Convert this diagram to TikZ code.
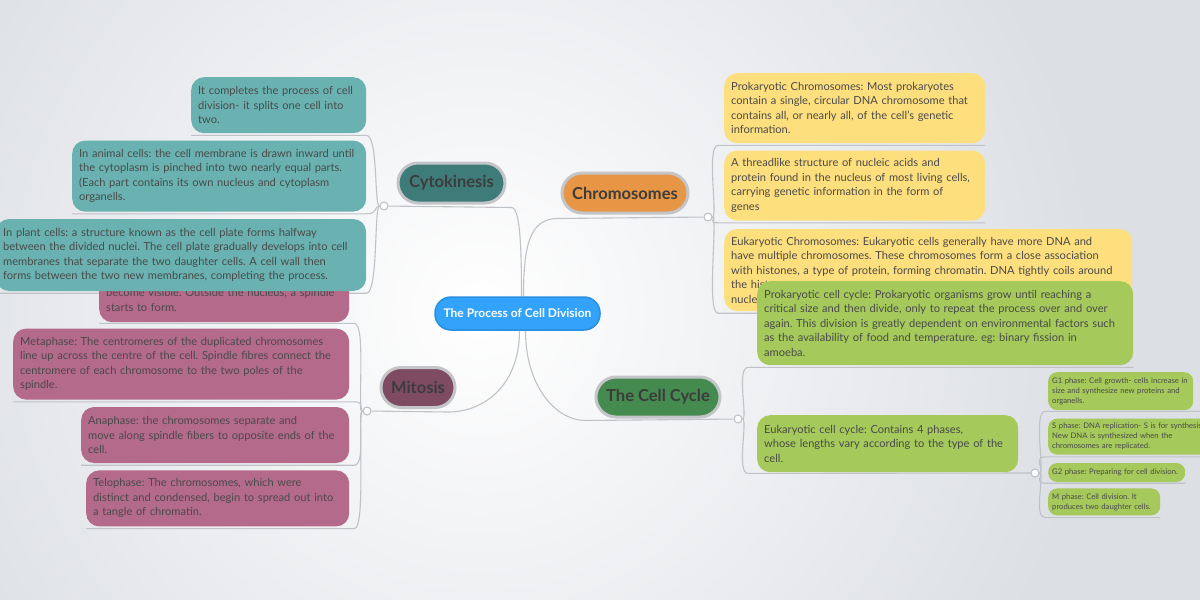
\documentclass[tikz,border=0pt]{standalone}
\usepackage{fontspec}
\setmainfont{Lato}
\usetikzlibrary{positioning}
\definecolor{bgcol}{HTML}{DCDFE4}
\definecolor{linecol}{HTML}{BFC2C7}
\definecolor{txtcol}{HTML}{4A4A4A}
\definecolor{headcol}{HTML}{3C3C3C}
\definecolor{rootcol}{HTML}{33A2FB}
\definecolor{rootedge}{HTML}{2A8FE0}
\definecolor{halocol}{HTML}{C4C5C8}
\definecolor{cytocol}{HTML}{3E7B79}
\definecolor{cytoleaf}{HTML}{69B2B1}
\definecolor{chromocol}{HTML}{E69645}
\definecolor{chromoleaf}{HTML}{FEDF7E}
\definecolor{mitocol}{HTML}{7E4B63}
\definecolor{mitoleaf}{HTML}{B46A8B}
\definecolor{cyclecol}{HTML}{458B4F}
\definecolor{cycleleaf}{HTML}{A5C95B}
\pgfdeclarelayer{back}
\pgfdeclarelayer{lines}
\pgfsetlayers{back,lines,main}
\frenchspacing

\begin{document}
\begin{tikzpicture}[x=1pt,y=-1pt,
    conn/.style={draw=linecol,line width=1.1pt},
    joint/.style={circle,draw=linecol,fill=white,line width=1.1pt,inner sep=0pt,minimum size=8pt},
    topic/.style={fill=#1,draw=halocol,line width=3pt,rounded corners=20pt,minimum height=40pt,
                  text=headcol,font=\fontsize{16.5}{19}\selectfont\bfseries},
    leaf/.style={fill=#1,rounded corners=13pt,align=left,anchor=north west,text=txtcol,
                 inner xsep=7pt,inner ysep=0pt,font=\fontsize{11.1}{14.5}\selectfont},
    phase/.style={fill=cycleleaf,rounded corners=9pt,align=left,anchor=north west,text=txtcol,
                  inner xsep=4pt,inner ysep=0pt,font=\fontsize{7.7}{10}\selectfont},
    lspur/.style={to path={.. controls +(-10,0) and +(12,0) .. (\tikztotarget)}},
    rspur/.style={to path={.. controls +(10,0) and +(-12,0) .. (\tikztotarget)}}]
  \clip (0,0) rectangle (1200,600);
  \begin{pgfonlayer}{back}
    \fill[bgcol] (0,0) rectangle (1200,600);
    \shade[inner color=white,outer color=bgcol] (480,310) circle (620pt);
  \end{pgfonlayer}

  % centre and main topics
  \node[fill=rootcol,draw=rootedge,line width=1.5pt,rounded corners=16pt,minimum width=165pt,
        minimum height=33pt,text=white,font=\fontsize{12}{14}\selectfont\bfseries]
        (root) at (517.5,313.5) {The Process of Cell Division};
  \node[topic=cytocol,minimum width=107pt]   (cyto)   at (451.5,183) {Cytokinesis};
  \node[topic=chromocol,minimum width=126pt] (chromo) at (625,193)   {Chromosomes};
  \node[topic=mitocol,minimum width=74pt]    (mito)   at (418,387.5) {Mitosis};
  \node[topic=cyclecol,minimum width=124pt]  (cycle)  at (658,397)   {The Cell Cycle};

  % mitosis
  \node[leaf=mitoleaf,text width=236pt,minimum height=44pt] (mito1) at (99,278)
    {become visible. Outside the nucleus, a spindle\\starts to form.};
  \node[leaf=mitoleaf,text width=322pt,minimum height=71pt,below=6pt of mito1.south east,anchor=north east] (mito2)
    {Metaphase: The centromeres of the duplicated chromosomes\\line up across the centre of the cell. Spindle fibres connect the\\centromere of each chromosome to the two poles of the\\spindle.};
  \node[leaf=mitoleaf,text width=254pt,minimum height=56pt,below=7pt of mito2.south east,anchor=north east] (mito3)
    {Anaphase: the chromosomes separate and\\move along spindle fibers to opposite ends of the\\cell.};
  \node[leaf=mitoleaf,text width=249pt,minimum height=56pt,below=7pt of mito3.south east,anchor=north east] (mito4)
    {Telophase: The chromosomes, which were\\distinct and condensed, begin to spread out into\\a tangle of chromatin.};

  % cytokinesis
  \node[leaf=cytoleaf,text width=161pt,minimum height=56pt] (cyto1) at (191,77)
    {It completes the process of cell\\division- it splits one cell into\\two.};
  \node[leaf=cytoleaf,text width=280pt,minimum height=71pt,below=7pt of cyto1.south east,anchor=north east] (cyto2)
    {In animal cells: the cell membrane is drawn inward until\\the cytoplasm is pinched into two nearly equal parts.\\(Each part contains its own nucleus and cytoplasm\\organells.};
  \node[leaf=cytoleaf,text width=356pt,minimum height=72pt,below=7pt of cyto2.south east,anchor=north east] (cyto3)
    {In plant cells: a structure known as the cell plate forms halfway\\between the divided nuclei. The cell plate gradually develops into cell\\membranes that separate the two daughter cells. A cell wall then\\forms between the two new membranes, completing the process.};

  % chromosomes
  \node[leaf=chromoleaf,text width=247pt,minimum height=70pt] (chromo1) at (724,73)
    {Prokaryotic Chromosomes: Most prokaryotes\\contain a single, circular DNA chromosome that\\contains all, or nearly all, of the cell's genetic\\information.};
  \node[leaf=chromoleaf,text width=247pt,minimum height=70pt,below=7pt of chromo1.south west,anchor=north west] (chromo2)
    {A threadlike structure of nucleic acids and\\protein found in the nucleus of most living cells,\\carrying genetic information in the form of\\genes};
  \node[leaf=chromoleaf,text width=394pt,minimum height=82pt,below=8pt of chromo2.south west,anchor=north west] (chromo3)
    {Eukaryotic Chromosomes: Eukaryotic cells generally have more DNA and\\have multiple chromosomes. These chromosomes form a close association\\with histones, a type of protein, forming chromatin. DNA tightly coils around\\the histones\\nucleus};

  % cell cycle
  \node[leaf=cycleleaf,text width=362pt,minimum height=84pt] (cycle1) at (757,281)
    {Prokaryotic cell cycle: Prokaryotic organisms grow until reaching a\\critical size and then divide, only to repeat the process over and over\\again. This division is greatly dependent on environmental factors such\\as the availability of food and temperature. eg: binary fission in\\amoeba.};
  \node[leaf=cycleleaf,text width=247pt,minimum height=57pt] (cycle2) at (757,415)
    {Eukaryotic cell cycle: Contains 4 phases,\\whose lengths vary according to the type of the\\cell.};
  \node[phase,text width=137pt,minimum height=38pt] (phase1) at (1048,372)
    {G1 phase: Cell growth- cells increase in\\size and synthesize new proteins and\\organells.};
  \node[phase,text width=167pt,minimum height=36pt,below=8pt of phase1.south west,anchor=north west] (phase2)
    {S phase: DNA replication- S is for synthesis.\\New DNA is synthesized when the\\chromosomes are replicated.};
  \node[phase,text width=129pt,minimum height=19pt,below=8pt of phase2.south west,anchor=north west] (phase3)
    {G2 phase: Preparing for cell division.};
  \node[phase,text width=104pt,minimum height=27pt,below=6pt of phase3.south west,anchor=north west] (phase4)
    {M phase: Cell division. It\\produces two daughter cells.};

  % junctions
  \node[joint] (jcyto)   at (384,206) {};
  \node[joint] (jchromo) at (708,217) {};
  \node[joint] (jmito)   at (367,411) {};
  \node[joint] (jcycle)  at (738,419) {};
  \node[joint] (jphase)  at (1035,473) {};

  \begin{pgfonlayer}{lines}
    \draw[conn] (jcyto) -- ([xshift=5pt,yshift=-3pt]cyto.south east)
      .. controls +(9,0) and +(0,-45) .. ([xshift=4pt]root.north);
    \draw[conn] ([xshift=6pt]root.north) .. controls +(0,-50) and +(-28,0)
      .. ([xshift=-3pt,yshift=-4pt]chromo.south west) -- (jchromo);
    \draw[conn] ([xshift=2pt]root.south) .. controls +(0,55) and +(35,0)
      .. ([xshift=-8pt,yshift=-3pt]mito.south east) -- (jmito);
    \draw[conn] ([xshift=8pt]root.south) .. controls +(0,55) and +(-30,0)
      .. ([xshift=-9pt,yshift=-2pt]cycle.south west) -- (jcycle);

    \draw[conn] (jcyto) to[lspur] ([yshift=-2pt]cyto1.south east) -- ([yshift=-2pt]cyto1.south west);
    \draw[conn] (jcyto) to[lspur] ([yshift=-2pt]cyto2.south east) -- ([yshift=-2pt]cyto2.south west);
    \draw[conn] (jcyto) to[lspur] ([yshift=-2pt]cyto3.south east) -- ([yshift=-2pt]cyto3.south west);

    \draw[conn] (jmito) to[lspur] ([xshift=5pt,yshift=-1pt]mito1.south east) -- ([yshift=-1pt]mito1.south west);
    \draw[conn] (jmito) to[lspur] ([xshift=5pt,yshift=-2pt]mito2.south east) -- ([yshift=-2pt]mito2.south west);
    \draw[conn] (jmito) to[lspur] ([xshift=5pt,yshift=-2pt]mito3.south east) -- ([yshift=-2pt]mito3.south west);
    \draw[conn] (jmito) to[lspur] ([xshift=5pt,yshift=-2pt]mito4.south east) -- ([yshift=-2pt]mito4.south west);

    \draw[conn] (jchromo) to[rspur] ([xshift=-6pt,yshift=-2pt]chromo1.south west) -- ([yshift=-2pt]chromo1.south east);
    \draw[conn] (jchromo) to[rspur] ([xshift=-6pt,yshift=-2pt]chromo2.south west) -- ([yshift=-2pt]chromo2.south east);
    \draw[conn] (jchromo) to[rspur] ([xshift=-6pt,yshift=-2pt]chromo3.south west) -- ([yshift=-2pt]chromo3.south east);

    \draw[conn] (jcycle) to[rspur] ([xshift=-9pt,yshift=-2pt]cycle1.south west) -- ([yshift=-2pt]cycle1.south east);
    \draw[conn] (jcycle) to[rspur] ([xshift=-9pt,yshift=-1pt]cycle2.south west) -- (jphase);

    \draw[conn] (jphase) to[rspur] ([xshift=-3pt,yshift=-1pt]phase1.south west) -- ([xshift=8pt,yshift=-1pt]phase1.south east);
    \draw[conn] (jphase) to[rspur] ([xshift=-3pt,yshift=-2pt]phase2.south west) -- ([yshift=-2pt]phase2.south east);
    \draw[conn] (jphase) to[rspur] ([xshift=-3pt,yshift=-1pt]phase3.south west) -- ([yshift=-1pt]phase3.south east);
    \draw[conn] (jphase) to[rspur] ([xshift=-3pt,yshift=-2pt]phase4.south west) -- ([yshift=-2pt]phase4.south east);
  \end{pgfonlayer}
\end{tikzpicture}
\end{document}
